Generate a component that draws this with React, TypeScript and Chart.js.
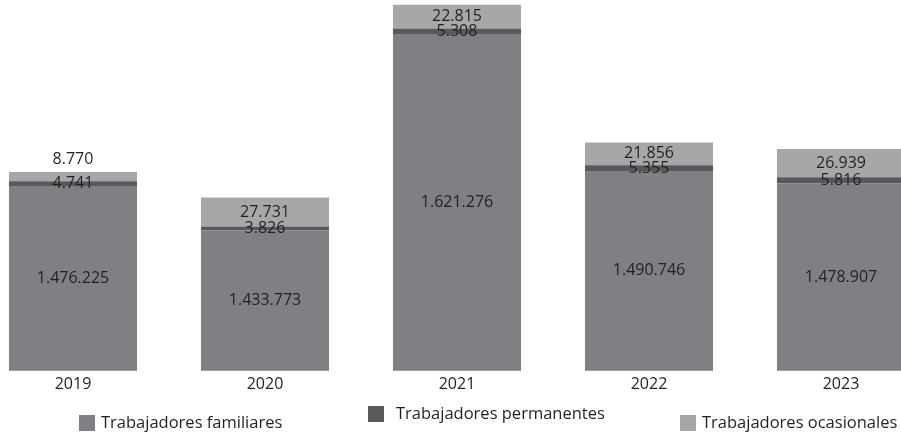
import React, { useEffect, useRef } from "react";
import { Chart, registerables } from "chart.js";

Chart.register(...registerables);

const categories = ["2019", "2020", "2021", "2022", "2023"];
const familiares = [1476225, 1433773, 1621276, 1490746, 1478907];
const permanentes = [4741, 3826, 5308, 5355, 5816];
const ocasionales = [8770, 27731, 22815, 21856, 26939];
const seriesLabels = ["Trabajadores familiares", "Trabajadores permanentes", "Trabajadores ocasionales"];
const seriesColors = ["#808084", "#59595b", "#a7a7aa"];

const FONT = "'Open Sans', 'Noto Sans', sans-serif";
const fmt = (v: number) => v.toLocaleString("de-DE");

const labelPlugin = {
  id: "segLabels",
  afterDatasetsDraw(chart: any) {
    const ctx = chart.ctx;
    const area = chart.chartArea;
    ctx.save();
    ctx.font = `16px ${FONT}`;
    ctx.fillStyle = "#231f20";
    ctx.textAlign = "center";
    ctx.textBaseline = "middle";
    const n = chart.data.datasets.length;
    chart.data.datasets.forEach((ds: any, di: number) => {
      const meta = chart.getDatasetMeta(di);
      meta.data.forEach((el: any, i: number) => {
        const v = ds.data[i];
        const top = Math.max(Math.min(el.y, el.base), area.top);
        const bottom = Math.min(Math.max(el.y, el.base), area.bottom);
        const h = bottom - top;
        let y = top + h / 2;
        if (di === n - 1 && h < 16) y = top - 13;
        ctx.fillText(fmt(v), el.x, y);
      });
    });
    ctx.restore();
  },
};

const legendPlugin = {
  id: "customLegend",
  afterDraw(chart: any) {
    const ctx = chart.ctx;
    const xs = [102, 391, 703];
    const gaps = [22, 28, 22];
    const ys = [423, 414, 423];
    ctx.save();
    ctx.font = `16.5px ${FONT}`;
    ctx.textBaseline = "middle";
    ctx.textAlign = "left";
    chart.data.datasets.forEach((ds: any, i: number) => {
      ctx.fillStyle = ds.backgroundColor;
      ctx.fillRect(xs[i], ys[i] - 8, 16, 16);
      ctx.fillStyle = "#231f20";
      ctx.fillText(ds.label, xs[i] + gaps[i], ys[i]);
    });
    ctx.restore();
  },
};

export default function App() {
  const ref = useRef<HTMLCanvasElement>(null);
  useEffect(() => {
    if (!ref.current) return;
    const chart = new Chart(ref.current, {
      type: "bar",
      data: {
        labels: categories,
        datasets: [familiares, permanentes, ocasionales].map((d, i) => ({
          label: seriesLabels[i],
          data: d,
          backgroundColor: seriesColors[i],
          borderWidth: 0,
          barPercentage: 0.667,
          categoryPercentage: 1,
        })),
      },
      options: {
        animation: false,
        responsive: false,
        maintainAspectRatio: false,
        layout: { padding: { top: 4, bottom: 35, left: 0, right: 0 } },
        plugins: { legend: { display: false }, tooltip: { enabled: false } },
        scales: {
          x: {
            stacked: true,
            grid: { display: false, drawTicks: false },
            border: { display: false },
            ticks: { color: "#231f20", font: { family: FONT, size: 16 }, padding: 4 },
          },
          y: {
            stacked: true,
            display: false,
            min: 1300000,
            max: 1650000,
          },
        },
      },
      plugins: [labelPlugin, legendPlugin],
    });
    return () => chart.destroy();
  }, []);
  return (
    <div style={{ position: "fixed", left: 0, top: 0, width: 901, height: 433, overflow: "hidden", background: "#fff" }}>
      <canvas ref={ref} width={960} height={433} style={{ position: "absolute", left: -23, top: 0 }} />
    </div>
  );
}
